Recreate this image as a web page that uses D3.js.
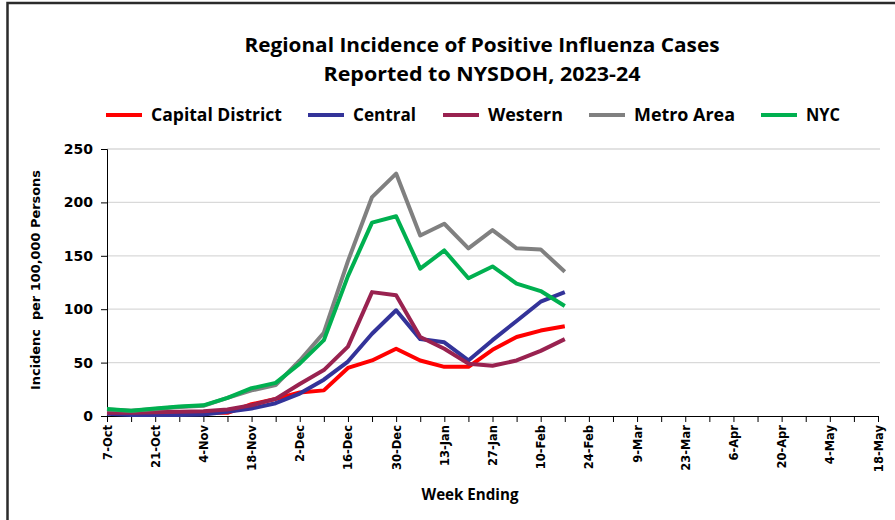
<!DOCTYPE html>
<html>
<head>
<meta charset="utf-8">
<script src="https://cdn.jsdelivr.net/npm/d3@7"></script>
<style>
  body { margin: 0; background: #fff; }
  svg { display: block; }
</style>
</head>
<body>
<svg width="895" height="520"></svg>
<script>
// Weeks ending (Saturday), 2023-24 season
const weeks = ["2023-10-07", "2023-10-14", "2023-10-21", "2023-10-28", "2023-11-04", "2023-11-11",
  "2023-11-18", "2023-11-25", "2023-12-02", "2023-12-09", "2023-12-16", "2023-12-23", "2023-12-30",
  "2024-01-06", "2024-01-13", "2024-01-20", "2024-01-27", "2024-02-03", "2024-02-10", "2024-02-17"];

const capital = [4, 3, 4, 3, 3, 3, 11, 16, 22, 24, 45, 52, 63, 52, 46, 46, 62, 74, 80, 84];
const central = [2, 1, 1, 1, 1.5, 4, 7, 12, 21, 34, 51, 77, 99, 72, 69, 52, 71, 89, 107, 116];
const western = [3, 3, 3.5, 4, 4.5, 6, 10, 16, 30, 43, 65, 116, 113, 74, 63, 49, 47, 52, 61, 72];
const metro = [6, 5, 6.5, 8.5, 9.5, 17, 24, 29, 52, 78, 145, 205, 227, 169, 180, 157, 174, 157, 156, 135];
const nyc = [6.5, 5, 7, 9, 10, 17, 26, 31, 49, 71, 131, 181, 187, 138, 155, 129, 140, 124, 117, 103];

const seriesNames = ["Capital District", "Central", "Western", "Metro Area", "NYC"];
const seriesValues = [capital, central, western, metro, nyc];
const yTicks = [0, 50, 100, 150, 200, 250];
const axisStart = "2023-10-07";
const axisEnd = "2024-05-18";

const colors = ["#ff0000", "#333399", "#992250", "#808080", "#00b050"];

const svg = d3.select("svg");
const narrow = "'Liberation Sans Narrow', 'Open Sans', sans-serif";
const wide = "'DejaVu Sans', Verdana, sans-serif";

// outer frame
svg.append("rect")
  .attr("x", 7.5).attr("y", 3)
  .attr("width", 1000).attr("height", 1000)
  .attr("fill", "#fff").attr("stroke", "#2b2b2b").attr("stroke-width", 2.5);

const margin = { left: 107, right: 878, top: 149, bottom: 416 };
const parse = d3.utcParse("%Y-%m-%d");

const x = d3.scaleUtc()
  .domain([parse(axisStart), parse(axisEnd)])
  .range([margin.left, margin.right]);

const y = d3.scaleLinear().domain([0, 250]).range([margin.bottom, margin.top]);

// title
const title = svg.append("g")
  .attr("font-family", narrow).attr("font-weight", "bold")
  .attr("text-anchor", "middle").attr("fill", "#000");
title.append("text").attr("x", 482).attr("y", 52).attr("font-size", 20)
  .attr("textLength", 475).attr("lengthAdjust", "spacingAndGlyphs")
  .text("Regional Incidence of Positive Influenza Cases");
title.append("text").attr("x", 482).attr("y", 81).attr("font-size", 20)
  .attr("textLength", 317).attr("lengthAdjust", "spacingAndGlyphs")
  .text("Reported to NYSDOH, 2023-24");

// legend
const legendX = [106, 308, 443, 589, 761];
const legendW = [131, 63, 75, 101, 34];
const legend = svg.append("g").selectAll("g")
  .data(seriesNames)
  .join("g")
  .attr("transform", (d, i) => `translate(${legendX[i]},115)`);
legend.append("line")
  .attr("x1", 0).attr("x2", 36)
  .attr("stroke", (d, i) => colors[i]).attr("stroke-width", 4);
legend.append("text")
  .attr("x", 45).attr("dy", "0.35em")
  .attr("font-family", narrow).attr("font-weight", "bold").attr("font-size", 18)
  .attr("textLength", (d, i) => legendW[i]).attr("lengthAdjust", "spacingAndGlyphs")
  .text(d => d);

// gridlines
svg.append("g")
  .selectAll("line")
  .data(yTicks.filter(d => d > 0))
  .join("line")
  .attr("x1", margin.left).attr("x2", 880)
  .attr("y1", d => y(d)).attr("y2", d => y(d))
  .attr("stroke", "#d9d9d9").attr("stroke-width", 1.3);

// y axis
const yAxis = svg.append("g")
  .attr("transform", `translate(${margin.left},0)`)
  .call(d3.axisLeft(y).tickValues(yTicks).tickSize(6).tickPadding(8));
yAxis.select(".domain").attr("stroke", "#000");
yAxis.selectAll(".tick line").attr("stroke", "#000");
yAxis.selectAll(".tick text")
  .attr("font-family", wide).attr("font-weight", "bold").attr("font-size", 14)
  .attr("fill", "#000");

svg.append("text")
  .attr("transform", `translate(40,280) rotate(-90)`)
  .attr("text-anchor", "middle")
  .attr("font-family", wide).attr("font-weight", "bold").attr("font-size", 12.5)
  .attr("textLength", 220).attr("lengthAdjust", "spacingAndGlyphs")
  .attr("xml:space", "preserve")
  .text("Incidenc  per 100,000 Persons");

// x axis: weekly ticks, labels every two weeks
const allWeeks = d3.utcSaturday.range(parse(axisStart), d3.utcDay.offset(parse(axisEnd), 1));
const fmt = d3.utcFormat("%-d-%b");
const xAxis = svg.append("g")
  .attr("transform", `translate(0,${margin.bottom})`)
  .call(d3.axisBottom(x).tickValues(allWeeks).tickSize(6).tickSizeOuter(0)
    .tickFormat((d, i) => (i % 2 === 0 ? fmt(d) : "")));
xAxis.select(".domain").attr("stroke", "#000");
xAxis.selectAll(".tick line").attr("stroke", "#000");
xAxis.selectAll(".tick text")
  .attr("font-family", wide).attr("font-weight", "bold").attr("font-size", 11.5)
  .attr("fill", "#000")
  .attr("text-anchor", "end")
  .attr("transform", "rotate(-90)")
  .attr("x", -9).attr("y", 0).attr("dy", "0.35em");

svg.append("text")
  .attr("x", 470).attr("y", 500)
  .attr("text-anchor", "middle")
  .attr("font-family", narrow).attr("font-weight", "bold").attr("font-size", 16)
  .attr("textLength", 97).attr("lengthAdjust", "spacingAndGlyphs")
  .text("Week Ending");

// lines
const line = d3.line()
  .x((d, i) => x(parse(weeks[i])))
  .y(d => y(d));

svg.append("g")
  .selectAll("path")
  .data(seriesValues)
  .join("path")
  .attr("d", line)
  .attr("fill", "none")
  .attr("stroke", (d, i) => colors[i])
  .attr("stroke-width", 4)
  .attr("stroke-linejoin", "round");
</script>
</body>
</html>
